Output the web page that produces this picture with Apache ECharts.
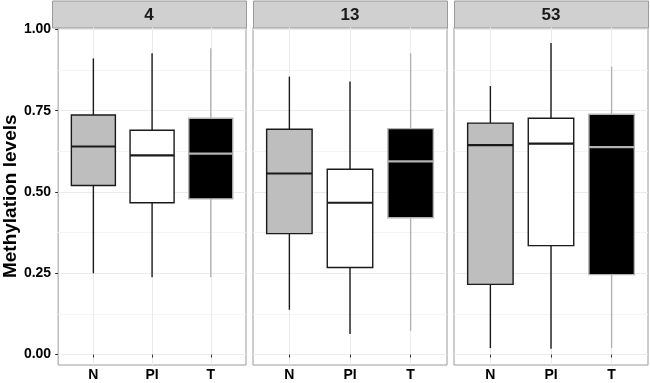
<!DOCTYPE html>
<html>
<head>
<meta charset="utf-8">
<script src="https://cdn.jsdelivr.net/npm/echarts@6/dist/echarts.min.js"></script>
<style>html,body{margin:0;padding:0;background:#fff}#c{width:650px;height:383px}</style>
</head>
<body>
<div id="c"></div>
<script>
// ---- data ----
const facets = ['4', '13', '53'];
const groups = ['N', 'PI', 'T'];
// each row: [lower whisker, Q1, median, Q3, upper whisker] for N, PI, T
const facet4  = [[0.250, 0.520, 0.640, 0.737, 0.911], [0.238, 0.467, 0.613, 0.690, 0.927], [0.238, 0.479, 0.618, 0.727, 0.942]];
const facet13 = [[0.138, 0.372, 0.557, 0.693, 0.855], [0.063, 0.268, 0.467, 0.570, 0.840], [0.073, 0.421, 0.594, 0.695, 0.927]];
const facet53 = [[0.020, 0.216, 0.644, 0.712, 0.826], [0.018, 0.335, 0.649, 0.727, 0.958], [0.020, 0.246, 0.638, 0.739, 0.886]];
const yMajorTicks = [0, 0.25, 0.5, 0.75, 1];
const yMinorTicks = [0.125, 0.375, 0.625, 0.875];
const yTitle = 'Methylation levels';

// ---- styling ----
const facetData = [facet4, facet13, facet53];
const fills = ['#bebebe', '#ffffff', '#000000'];
const strokes = ['#1a1a1a', '#1a1a1a', '#b3b3b3'];
const FONT = "'Liberation Sans', Arial, sans-serif";
const panelLefts = [52, 253, 454];
const panelW = 194;
const panelTop = 27.5, panelBottom = 18;

const grids = [], xAxes = [], yAxes = [], series = [], graphics = [];
facets.forEach((f, i) => {
  grids.push({left: panelLefts[i], width: panelW, top: panelTop, bottom: panelBottom,
    show: true, borderColor: '#9a9a9a', borderWidth: 1, backgroundColor: '#fff'});
  xAxes.push({type: 'value', gridIndex: i, min: 0.4, max: 3.6,
    axisLine: {show: false},
    axisTick: {show: true, length: 3, lineStyle: {color: '#333'}, customValues: [1, 2, 3]},
    axisLabel: {customValues: [1, 2, 3], formatter: v => groups[Math.round(v) - 1],
      fontFamily: FONT, fontWeight: 'bold', fontSize: 14, color: '#000', margin: 3},
    splitLine: {show: true, lineStyle: {color: '#ebebeb', width: 1}}
  });
  yAxes.push({type: 'value', gridIndex: i, min: -0.032, max: 1.006,
    name: i === 0 ? yTitle : '', nameLocation: 'middle', nameGap: 36,
    nameTextStyle: {fontFamily: FONT, fontWeight: 'bold', fontSize: 19, color: '#000'},
    axisLine: {show: false},
    axisTick: {show: i === 0, length: 3, lineStyle: {color: '#333'}, customValues: yMajorTicks},
    axisLabel: {show: i === 0, customValues: yMajorTicks, formatter: v => v.toFixed(2),
      fontFamily: FONT, fontWeight: 'bold', fontSize: 14, color: '#000', margin: 7},
    splitLine: {show: true, lineStyle: {color: '#ebebeb', width: 1}}
  });
  yAxes.push({type: 'value', gridIndex: i, min: -0.032, max: 1.006,
    axisLine: {show: false},
    axisTick: {show: false, customValues: yMinorTicks},
    axisLabel: {show: false, customValues: yMinorTicks},
    splitLine: {show: true, lineStyle: {color: '#f4f4f4', width: 1}}
  });
  const data = facetData[i].map((row, g) => [g + 1].concat(row));
  series.push({
    type: 'custom', xAxisIndex: i, yAxisIndex: 2 * i,
    data: data,
    encode: {x: 0, y: [1, 2, 3, 4, 5]},
    renderItem: function (params, api) {
      const g = params.dataIndex;
      const x = api.value(0);
      const lo = api.coord([x, api.value(1)]);
      const q1 = api.coord([x, api.value(2)]);
      const md = api.coord([x, api.value(3)]);
      const q3 = api.coord([x, api.value(4)]);
      const hi = api.coord([x, api.value(5)]);
      const hw = api.coord([x + 0.375, 0])[0] - lo[0];
      const cx = lo[0];
      const st = strokes[g];
      return {
        type: 'group',
        children: [
          {type: 'line', shape: {x1: cx, y1: hi[1], x2: cx, y2: q3[1]}, style: {stroke: st, lineWidth: 1.4}},
          {type: 'line', shape: {x1: cx, y1: q1[1], x2: cx, y2: lo[1]}, style: {stroke: st, lineWidth: 1.4}},
          {type: 'rect', shape: {x: cx - hw, y: q3[1], width: 2 * hw, height: q1[1] - q3[1]},
            style: {fill: fills[g], stroke: st, lineWidth: 1.4}},
          {type: 'line', shape: {x1: cx - hw, y1: md[1], x2: cx + hw, y2: md[1]}, style: {stroke: st, lineWidth: 2.2}}
        ]
      };
    }
  });
  graphics.push({type: 'rect', left: panelLefts[i], top: 0.5,
    shape: {width: panelW, height: panelTop - 0.5},
    style: {fill: '#d0d0d0', stroke: '#9a9a9a', lineWidth: 1}});
  graphics.push({type: 'text', x: panelLefts[i] + panelW / 2, y: 15,
    style: {text: f, fontFamily: FONT, fontWeight: 'bold', fontSize: 17, fill: '#1a1a1a',
      textAlign: 'center', textVerticalAlign: 'middle'}});
});

const chart = echarts.init(document.getElementById('c'), null, {renderer: 'canvas'});
chart.setOption({
  animation: false,
  grid: grids, xAxis: xAxes, yAxis: yAxes, series: series, graphic: graphics
});
</script>
</body>
</html>
